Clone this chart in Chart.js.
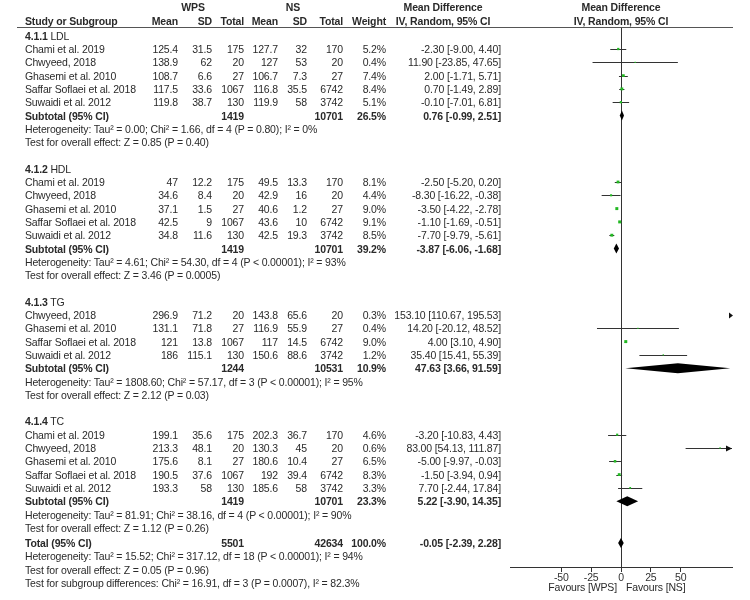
<!DOCTYPE html>
<html lang="en">
<head>
<meta charset="UTF-8" />
<title>Forest plot - lipids WPS vs NS</title>
<script src="https://cdn.jsdelivr.net/npm/chart.js"></script>
<style>
  body { margin: 0; background: #fff; }
  #page {
    position: relative;
    width: 750px;
    height: 600px;
    overflow: hidden;
    font-family: 'Liberation Sans', Arial, sans-serif;
    font-size: 10.5px;
    letter-spacing: -0.15px;
    color: #2a2a2a;
  }
  #page canvas { position: absolute; left: 0; top: 0; }
  .t { position: absolute; height: 14px; line-height: 14px; white-space: nowrap; }
  .b { font-weight: bold; }
  .rule { position: absolute; left: 17px; width: 716px; top: 27px; height: 0; border-top: 1px solid #555; }
</style>
</head>
<body>
<div id="page">
  <canvas id="chart" width="750" height="600"></canvas>
  <div class="rule"></div>
</div>

<script>
// ---- data ----
const groupCodes = ['4.1.1', '4.1.2', '4.1.3', '4.1.4'];
const groupNames = ['LDL', 'HDL', 'TG', 'TC'];

const studyGroup = [0,0,0,0,0, 1,1,1,1,1, 2,2,2,2, 3,3,3,3,3];
const studyNames = [
  'Chami et al. 2019', 'Chwyeed, 2018', 'Ghasemi et al. 2010', 'Saffar Soflaei et al. 2018', 'Suwaidi et al. 2012',
  'Chami et al. 2019', 'Chwyeed, 2018', 'Ghasemi et al. 2010', 'Saffar Soflaei et al. 2018', 'Suwaidi et al. 2012',
  'Chwyeed, 2018', 'Ghasemi et al. 2010', 'Saffar Soflaei et al. 2018', 'Suwaidi et al. 2012',
  'Chami et al. 2019', 'Chwyeed, 2018', 'Ghasemi et al. 2010', 'Saffar Soflaei et al. 2018', 'Suwaidi et al. 2012'
];
const wpsMean = [125.4, 138.9, 108.7, 117.5, 119.8,  47, 34.6, 37.1, 42.5, 34.8,  296.9, 131.1, 121, 186,  199.1, 213.3, 175.6, 190.5, 193.3];
const wpsSD   = [31.5, 62, 6.6, 33.6, 38.7,  12.2, 8.4, 1.5, 9, 11.6,  71.2, 71.8, 13.8, 115.1,  35.6, 48.1, 8.1, 37.6, 58];
const wpsN    = [175, 20, 27, 1067, 130,  175, 20, 27, 1067, 130,  20, 27, 1067, 130,  175, 20, 27, 1067, 130];
const nsMean  = [127.7, 127, 106.7, 116.8, 119.9,  49.5, 42.9, 40.6, 43.6, 42.5,  143.8, 116.9, 117, 150.6,  202.3, 130.3, 180.6, 192, 185.6];
const nsSD    = [32, 53, 7.3, 35.5, 58,  13.3, 16, 1.2, 10, 19.3,  65.6, 55.9, 14.5, 88.6,  36.7, 45, 10.4, 39.4, 58];
const nsN     = [170, 20, 27, 6742, 3742,  170, 20, 27, 6742, 3742,  20, 27, 6742, 3742,  170, 20, 27, 6742, 3742];
const weight  = [5.2, 0.4, 7.4, 8.4, 5.1,  8.1, 4.4, 9.0, 9.1, 8.5,  0.3, 0.4, 9.0, 1.2,  4.6, 0.6, 6.5, 8.3, 3.3];
const md      = [-2.30, 11.90, 2.00, 0.70, -0.10,  -2.50, -8.30, -3.50, -1.10, -7.70,  153.10, 14.20, 4.00, 35.40,  -3.20, 83.00, -5.00, -1.50, 7.70];
const ciLow   = [-9.00, -23.85, -1.71, -1.49, -7.01,  -5.20, -16.22, -4.22, -1.69, -9.79,  110.67, -20.12, 3.10, 15.41,  -10.83, 54.13, -9.97, -3.94, -2.44];
const ciHigh  = [4.40, 47.65, 5.71, 2.89, 6.81,  0.20, -0.38, -2.78, -0.51, -5.61,  195.53, 48.52, 4.90, 55.39,  4.43, 111.87, -0.03, 0.94, 17.84];

const subWpsN   = [1419, 1419, 1244, 1419];
const subNsN    = [10701, 10701, 10531, 10701];
const subWeight = [26.5, 39.2, 10.9, 23.3];
const subMD     = [0.76, -3.87, 47.63, 5.22];
const subLow    = [-0.99, -6.06, 3.66, -3.90];
const subHigh   = [2.51, -1.68, 91.59, 14.35];
const subHet = [
  'Heterogeneity: Tau² = 0.00; Chi² = 1.66, df = 4 (P = 0.80); I² = 0%',
  'Heterogeneity: Tau² = 4.61; Chi² = 54.30, df = 4 (P < 0.00001); I² = 93%',
  'Heterogeneity: Tau² = 1808.60; Chi² = 57.17, df = 3 (P < 0.00001); I² = 95%',
  'Heterogeneity: Tau² = 81.91; Chi² = 38.16, df = 4 (P < 0.00001); I² = 90%'
];
const subTest = [
  'Test for overall effect: Z = 0.85 (P = 0.40)',
  'Test for overall effect: Z = 3.46 (P = 0.0005)',
  'Test for overall effect: Z = 2.12 (P = 0.03)',
  'Test for overall effect: Z = 1.12 (P = 0.26)'
];

const totalWpsN = 5501, totalNsN = 42634, totalWeight = 100.0;
const totalMD = -0.05, totalLow = -2.39, totalHigh = 2.28;
const totalNotes = [
  'Heterogeneity: Tau² = 15.52; Chi² = 317.12, df = 18 (P < 0.00001); I² = 94%',
  'Test for overall effect: Z = 0.05 (P = 0.96)',
  'Test for subgroup differences: Chi² = 16.91, df = 3 (P = 0.0007), I² = 82.3%'
];

const xTicks = [-50, -25, 0, 25, 50];

// ---- layout ----
const X_MIN = -93, X_MAX = 93;
const LINE0 = 35.7, LINE_H = 13.3;     // pixel of text line 0 and line spacing
const PLOT_TOP = 27, PLOT_BOTTOM = 567;
const lineY = n => LINE0 + n * LINE_H;

// assign a text line to every row
const studyLine = [], subLine = [], headLine = [];
let ln = 0;
groupNames.forEach((g, gi) => {
  headLine.push(ln); ln++;
  studyGroup.forEach((sg, i) => { if (sg === gi) { studyLine[i] = ln; ln++; } });
  subLine.push(ln);
  ln += 4; // subtotal, heterogeneity, test, blank
});
const totalLine = ln - 1 + 0.15;

// ---- text table ----
const page = document.getElementById('page');
function put(text, x, n, align, bold) {
  const d = document.createElement('div');
  d.className = 't' + (bold ? ' b' : '');
  d.textContent = text;
  d.style.top = (lineY(n) - 7) + 'px';
  if (align === 'right') { d.style.right = (750 - x) + 'px'; }
  else if (align === 'center') { d.style.left = (x - 100) + 'px'; d.style.width = '200px'; d.style.textAlign = 'center'; }
  else { d.style.left = x + 'px'; }
  page.appendChild(d);
  return d;
}
const colX = { wm: 178, ws: 212, wn: 244, nm: 278, ns: 307, nn: 343, w: 386, ci: 501 };
const fmtCI = (m, l, h) => m.toFixed(2) + ' [' + l.toFixed(2) + ', ' + h.toFixed(2) + ']';

// headers
const hTop = (7 - LINE0) / LINE_H, hSub = (21 - LINE0) / LINE_H;
put('WPS', 193, hTop, 'center', true);
put('NS', 293, hTop, 'center', true);
put('Mean Difference', 443, hTop, 'center', true);
put('Mean Difference', 621, hTop, 'center', true);
put('Study or Subgroup', 25, hSub, 'left', true);
put('Mean', colX.wm, hSub, 'right', true);
put('SD', colX.ws, hSub, 'right', true);
put('Total', colX.wn, hSub, 'right', true);
put('Mean', colX.nm, hSub, 'right', true);
put('SD', colX.ns, hSub, 'right', true);
put('Total', colX.nn, hSub, 'right', true);
put('Weight', colX.w, hSub, 'right', true);
put('IV, Random, 95% CI', 443, hSub, 'center', true);
put('IV, Random, 95% CI', 621, hSub, 'center', true);

groupNames.forEach((g, gi) => {
  const h = put('', 25, headLine[gi], 'left', false);
  h.innerHTML = '<b>' + groupCodes[gi] + '</b> ' + g;
  const s = subLine[gi];
  put('Subtotal (95% CI)', 25, s, 'left', true);
  put(String(subWpsN[gi]), colX.wn, s, 'right', true);
  put(String(subNsN[gi]), colX.nn, s, 'right', true);
  put(subWeight[gi].toFixed(1) + '%', colX.w, s, 'right', true);
  put(fmtCI(subMD[gi], subLow[gi], subHigh[gi]), colX.ci, s, 'right', true);
  put(subHet[gi], 25, s + 1, 'left', false);
  put(subTest[gi], 25, s + 2, 'left', false);
});

studyNames.forEach((name, i) => {
  const n = studyLine[i];
  put(name, 25, n, 'left', false);
  put(String(wpsMean[i]), colX.wm, n, 'right');
  put(String(wpsSD[i]), colX.ws, n, 'right');
  put(String(wpsN[i]), colX.wn, n, 'right');
  put(String(nsMean[i]), colX.nm, n, 'right');
  put(String(nsSD[i]), colX.ns, n, 'right');
  put(String(nsN[i]), colX.nn, n, 'right');
  put(weight[i].toFixed(1) + '%', colX.w, n, 'right');
  put(fmtCI(md[i], ciLow[i], ciHigh[i]), colX.ci, n, 'right');
});

put('Total (95% CI)', 25, totalLine, 'left', true);
put(String(totalWpsN), colX.wn, totalLine, 'right', true);
put(String(totalNsN), colX.nn, totalLine, 'right', true);
put(totalWeight.toFixed(1) + '%', colX.w, totalLine, 'right', true);
put(fmtCI(totalMD, totalLow, totalHigh), colX.ci, totalLine, 'right', true);
totalNotes.forEach((t, k) => put(t, 25, totalLine + 1 + k, 'left', false));

const favY = (587 - LINE0) / LINE_H;
put('Favours [WPS]', 617, favY, 'right');
put('Favours [NS]', 626, favY, 'left');

// ---- forest plot ----
const diamonds = subMD.map((m, gi) => ({ m, lo: subLow[gi], hi: subHigh[gi], y: subLine[gi] }))
  .concat([{ m: totalMD, lo: totalLow, hi: totalHigh, y: totalLine }]);

const forestPlugin = {
  id: 'forest',
  beforeDatasetsDraw(chart) {
    const { ctx, scales: { x, y } } = chart;
    const xl = x.getPixelForValue(X_MIN), xr = x.getPixelForValue(X_MAX);
    ctx.save();
    ctx.strokeStyle = '#333';
    ctx.fillStyle = '#111';
    ctx.lineWidth = 1;
    studyNames.forEach((_, i) => {
      const py = Math.round(y.getPixelForValue(studyLine[i])) + 0.5;
      const lo = ciLow[i], hi = ciHigh[i];
      if (lo > X_MAX) {
        // whole interval off the scale: small pointer at the edge
        ctx.beginPath();
        ctx.moveTo(xr - 3, py - 3); ctx.lineTo(xr + 1, py); ctx.lineTo(xr - 3, py + 3);
        ctx.closePath(); ctx.fill();
        return;
      }
      const a = x.getPixelForValue(Math.max(lo, X_MIN));
      const b = x.getPixelForValue(Math.min(hi, X_MAX));
      ctx.beginPath(); ctx.moveTo(a, py); ctx.lineTo(b, py); ctx.stroke();
      if (hi > X_MAX) {
        ctx.beginPath();
        ctx.moveTo(xr - 6, py - 3); ctx.lineTo(xr, py); ctx.lineTo(xr - 6, py + 3);
        ctx.closePath(); ctx.fill();
      }
      if (lo < X_MIN) {
        ctx.beginPath();
        ctx.moveTo(xl + 6, py - 3); ctx.lineTo(xl, py); ctx.lineTo(xl + 6, py + 3);
        ctx.closePath(); ctx.fill();
      }
    });
    ctx.restore();
  },
  afterDatasetsDraw(chart) {
    const { ctx, scales: { x, y } } = chart;
    ctx.save();
    ctx.fillStyle = '#000';
    diamonds.forEach(d => {
      const py = y.getPixelForValue(d.y);
      ctx.beginPath();
      ctx.moveTo(x.getPixelForValue(d.lo), py);
      ctx.lineTo(x.getPixelForValue(d.m), py - 5);
      ctx.lineTo(x.getPixelForValue(d.hi), py);
      ctx.lineTo(x.getPixelForValue(d.m), py + 5);
      ctx.closePath();
      ctx.fill();
    });
    ctx.restore();
  }
};

new Chart(document.getElementById('chart'), {
  type: 'scatter',
  data: {
    datasets: [{
      data: md.map((m, i) => ({ x: m, y: studyLine[i] })),
      pointStyle: 'rect',
      pointRadius: weight.map(w => Math.max(0.9, Math.sqrt(w) * 0.7)),
      backgroundColor: '#22b822',
      borderWidth: 0
    }]
  },
  options: {
    responsive: false,
    animation: false,
    events: [],
    layout: { padding: { left: 510, right: 18, top: PLOT_TOP, bottom: 0 } },
    plugins: { legend: { display: false }, tooltip: { enabled: false } },
    scales: {
      x: {
        type: 'linear',
        min: X_MIN,
        max: X_MAX,
        afterBuildTicks: s => { s.ticks = xTicks.map(v => ({ value: v })); },
        afterFit: s => { s.height = 600 - PLOT_BOTTOM; },
        ticks: {
          autoSkip: false,
          maxRotation: 0,
          padding: 0,
          color: '#333',
          font: { family: 'Liberation Sans', size: 10.5 }
        },
        grid: {
          drawOnChartArea: true,
          color: c => (c.tick && c.tick.value === 0 ? '#333' : 'rgba(0,0,0,0)'),
          tickColor: '#333',
          tickLength: 5
        },
        border: { display: true, color: '#333', width: 1 }
      },
      y: {
        type: 'linear',
        display: false,
        reverse: true,
        min: (PLOT_TOP - LINE0) / LINE_H,
        max: (PLOT_BOTTOM - LINE0) / LINE_H
      }
    }
  },
  plugins: [forestPlugin]
});
</script>
</body>
</html>
